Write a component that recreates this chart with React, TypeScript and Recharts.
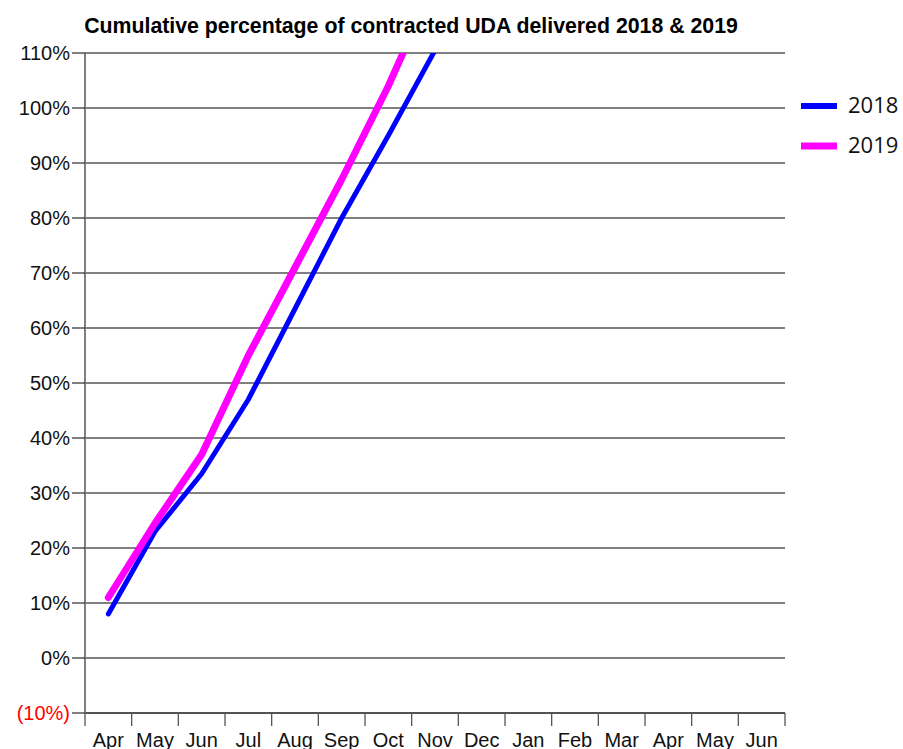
import React from 'react';
import { LineChart, Line, XAxis, YAxis, CartesianGrid } from 'recharts';

const months = ['Apr', 'May', 'Jun', 'Jul', 'Aug', 'Sep', 'Oct', 'Nov', 'Dec', 'Jan', 'Feb', 'Mar', 'Apr', 'May', 'Jun'];
const series2018: (number | null)[] = [8, 23, 33.5, 47, 63.5, 80, 95, 110.5, null, null, null, null, null, null, null];
const series2019: (number | null)[] = [11, 24.5, 37, 55, 71, 87, 104, 123, null, null, null, null, null, null, null];
const yTicks = [-10, 0, 10, 20, 30, 40, 50, 60, 70, 80, 90, 100, 110];
const title = 'Cumulative percentage of contracted UDA delivered 2018 & 2019';

const data = months.map((m, i) => ({ x: i + 0.5, month: m, y2018: series2018[i], y2019: series2019[i] }));
const xTicks: number[] = [];
for (let i = 0; i <= months.length * 2; i++) xTicks.push(i / 2);

const FONT = '"Liberation Sans", Arial, sans-serif';

const XTick = (props: any) => {
  const { x, y, payload } = props;
  const v = payload.value as number;
  if (Number.isInteger(v)) {
    return <line x1={x} x2={x} y1={y - 20} y2={y - 7} stroke="#555" strokeWidth={1.3} />;
  }
  const label = months[Math.floor(v)];
  return (
    <text x={x} y={y} dy="0.71em" textAnchor="middle" fontSize={20} fontFamily={FONT} fill="#111">
      {label}
    </text>
  );
};

const YTick = (props: any) => {
  const { x, y, payload } = props;
  const v = payload.value as number;
  const neg = v < 0;
  return (
    <text x={x} y={y} dy="0.355em" textAnchor="end" fontSize={20} fontFamily={FONT} fill={neg ? '#ff0000' : '#111'}>
      {neg ? `(${Math.abs(v)}%)` : `${v}%`}
    </text>
  );
};

export default function App() {
  return (
    <div style={{ position: 'absolute', left: 0, top: 0, width: 903, height: 749, background: '#fff' }}>
      <LineChart width={903} height={749} data={data} margin={{ top: 53, right: 118, bottom: 0, left: 0 }}>
        <CartesianGrid vertical={false} stroke="#000" strokeWidth={1} />
        <XAxis
          dataKey="x"
          type="number"
          domain={[0, 15]}
          ticks={xTicks}
          interval={0}
          height={36}
          tickSize={13}
          tickMargin={7}
          tickLine={false}
          tick={<XTick />}
          axisLine={{ stroke: '#444', strokeWidth: 1.3 }}
        />
        <YAxis
          type="number"
          domain={[-10, 110]}
          ticks={yTicks}
          interval={0}
          width={85}
          allowDataOverflow
          tickSize={13}
          tickMargin={2}
          tickLine={{ stroke: '#000' }}
          axisLine={{ stroke: '#808080', strokeWidth: 2 }}
          tick={<YTick />}
        />
        <Line type="linear" dataKey="y2018" stroke="#0000ff" strokeWidth={5} dot={false} strokeLinecap="round" strokeLinejoin="round" isAnimationActive={false} connectNulls={false} />
        <Line type="linear" dataKey="y2019" stroke="#ff00ff" strokeWidth={7} dot={false} strokeLinecap="round" strokeLinejoin="round" isAnimationActive={false} connectNulls={false} />
      </LineChart>
      <svg width={903} height={749} style={{ position: 'absolute', left: 0, top: 0, pointerEvents: 'none' }}>
        <text x={411} y={33} textAnchor="middle" fontSize={21.3} fontWeight="bold" fontFamily={FONT} fill="#000">
          {title}
        </text>
        <line x1={801} x2={837} y1={106} y2={106} stroke="#0000ff" strokeWidth={6} />
        <text x={848} y={113} fontSize={22} fontFamily='"Open Sans", sans-serif' fill="#111">2018</text>
        <line x1={801} x2={837} y1={146} y2={146} stroke="#ff00ff" strokeWidth={7} />
        <text x={848} y={153} fontSize={22} fontFamily='"Open Sans", sans-serif' fill="#111">2019</text>
      </svg>
    </div>
  );
}
